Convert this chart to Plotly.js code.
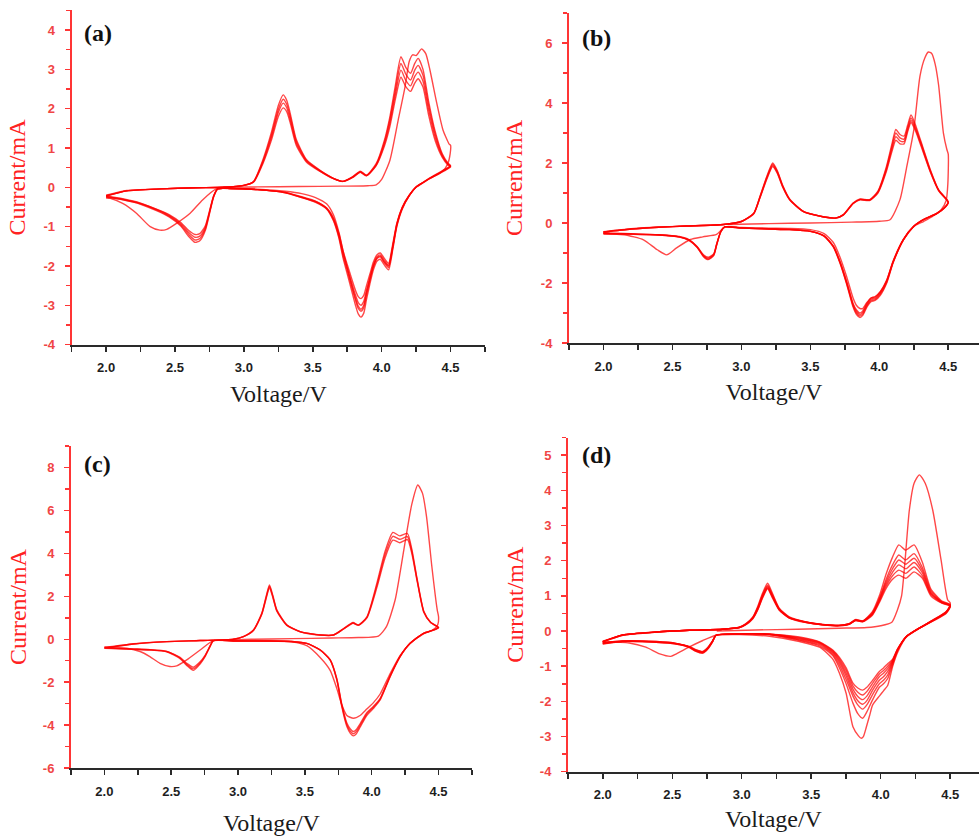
<!DOCTYPE html>
<html><head><meta charset="utf-8">
<script src="https://cdn.plot.ly/plotly-3.0.1.min.js"></script>
<style>html,body{margin:0;padding:0;background:#fff}#chart{width:979px;height:836px}</style>
</head><body><div id="chart"></div>
<script>
// ---------- tick labels ----------
const xTickVals = [2.0, 2.5, 3.0, 3.5, 4.0, 4.5];
const xTickText = ["2.0", "2.5", "3.0", "3.5", "4.0", "4.5"];
const aYTickVals = [-4, -3, -2, -1, 0, 1, 2, 3, 4];
const aYTickText = ["-4", "-3", "-2", "-1", "0", "1", "2", "3", "4"];
const bYTickVals = [-4, -2, 0, 2, 4, 6];
const bYTickText = ["-4", "-2", "0", "2", "4", "6"];
const cYTickVals = [-6, -4, -2, 0, 2, 4, 6, 8];
const cYTickText = ["-6", "-4", "-2", "0", "2", "4", "6", "8"];
const dYTickVals = [-4, -3, -2, -1, 0, 1, 2, 3, 4, 5];
const dYTickText = ["-4", "-3", "-2", "-1", "0", "1", "2", "3", "4", "5"];
const panelLabels = ["(a)", "(b)", "(c)", "(d)"];

// ---------- panel (a) ----------
const a1V = [2.85,3.1,3.4,3.7,3.9,3.96,4.0,4.06,4.12,4.17,4.2,4.225,4.25,4.29,4.32,4.35,4.4,4.445,4.49,4.5,
  4.497,4.48,4.44,4.35,4.29,4.25,4.2,4.15,4.11,4.08,4.05,4.02,3.99,3.965,3.94,3.915,3.89,3.87,3.85,3.83,3.81,3.78,3.75,3.72,3.69,3.65,3.6,3.52,3.42,3.3,3.1,2.9,2.8,2.7,2.61,2.51,2.44,2.39,2.32,2.22,2.12,2.03,2.0];
const a1I = [0.0,0.01,0.02,0.03,0.04,0.06,0.2,0.69,1.71,2.56,3.2,3.37,3.35,3.52,3.4,2.99,2.14,1.46,1.1,1.07,
  0.85,0.6,0.4,0.23,0.1,0.01,-0.21,-0.52,-0.95,-1.52,-2.0,-1.9,-1.75,-1.8,-2.0,-2.32,-2.68,-3.0,-3.1,-3.02,-2.82,-2.45,-2.05,-1.62,-1.15,-0.7,-0.42,-0.26,-0.16,-0.1,-0.05,-0.03,-0.04,-0.32,-0.66,-0.92,-1.07,-1.09,-1.0,-0.66,-0.41,-0.28,-0.27];
const aV = [2.0,2.15,2.4,2.65,2.85,3.0,3.07,3.14,3.2,3.25,3.285,3.31,3.335,3.38,3.455,3.55,3.65,3.72,3.79,3.845,3.89,3.96,4.02,4.06,4.1,4.14,4.175,4.21,4.24,4.265,4.3,4.34,4.39,4.44,4.48,4.5,
  4.47,4.42,4.35,4.29,4.25,4.2,4.15,4.11,4.08,4.05,4.02,3.99,3.965,3.94,3.915,3.89,3.87,3.85,3.83,3.81,3.78,3.75,3.72,3.69,3.65,3.6,3.52,3.42,3.3,3.1,2.9,2.81,2.78,2.755,2.72,2.68,2.645,2.6,2.54,2.46,2.37,2.25,2.12,2.0];
const aI2 = [-0.22,-0.09,-0.04,-0.01,0.0,0.05,0.15,0.72,1.4,2.08,2.35,2.22,1.9,1.22,0.7,0.44,0.23,0.15,0.27,0.41,0.31,0.6,1.2,1.8,2.6,3.32,3.05,2.9,3.15,3.28,3.0,2.2,1.4,0.85,0.62,0.55,
  0.48,0.38,0.24,0.1,0.01,-0.22,-0.55,-1.0,-1.6,-2.1,-1.98,-1.83,-1.88,-2.1,-2.45,-2.85,-3.2,-3.3,-3.22,-3.0,-2.6,-2.2,-1.8,-1.3,-0.85,-0.55,-0.38,-0.26,-0.14,-0.06,-0.03,-0.04,-0.25,-0.6,-1.1,-1.36,-1.4,-1.25,-0.98,-0.76,-0.6,-0.43,-0.32,-0.25];
const aI3 = [-0.22,-0.09,-0.04,-0.01,0.0,0.05,0.14,0.68,1.33,1.98,2.24,2.12,1.82,1.17,0.68,0.43,0.23,0.15,0.26,0.4,0.3,0.58,1.15,1.72,2.48,3.15,2.88,2.73,2.98,3.1,2.85,2.1,1.33,0.82,0.6,0.54,
  0.47,0.37,0.23,0.1,0.01,-0.21,-0.53,-0.97,-1.55,-2.04,-1.92,-1.77,-1.82,-2.03,-2.37,-2.74,-3.06,-3.15,-3.08,-2.87,-2.5,-2.12,-1.74,-1.26,-0.83,-0.54,-0.37,-0.26,-0.14,-0.06,-0.03,-0.04,-0.24,-0.58,-1.06,-1.3,-1.34,-1.2,-0.95,-0.74,-0.58,-0.42,-0.31,-0.24];
const aI4 = [-0.21,-0.09,-0.04,-0.01,0.0,0.05,0.14,0.65,1.27,1.9,2.14,2.03,1.74,1.12,0.66,0.42,0.22,0.15,0.26,0.39,0.3,0.56,1.1,1.64,2.37,2.98,2.72,2.58,2.82,2.93,2.7,1.98,1.25,0.79,0.59,0.53,
  0.46,0.36,0.23,0.1,0.01,-0.2,-0.51,-0.94,-1.5,-1.98,-1.86,-1.72,-1.77,-1.96,-2.28,-2.62,-2.9,-3.0,-2.93,-2.74,-2.4,-2.04,-1.68,-1.22,-0.8,-0.53,-0.36,-0.25,-0.13,-0.06,-0.03,-0.04,-0.23,-0.56,-1.02,-1.24,-1.27,-1.15,-0.92,-0.72,-0.57,-0.41,-0.3,-0.23];
const aI5 = [-0.2,-0.08,-0.04,-0.01,0.0,0.05,0.13,0.62,1.2,1.8,2.02,1.93,1.66,1.07,0.64,0.41,0.22,0.15,0.25,0.38,0.29,0.55,1.05,1.55,2.25,2.8,2.56,2.44,2.65,2.76,2.55,1.85,1.17,0.76,0.57,0.52,
  0.45,0.35,0.22,0.09,0.0,-0.2,-0.5,-0.91,-1.45,-1.93,-1.81,-1.67,-1.72,-1.9,-2.2,-2.5,-2.75,-2.83,-2.78,-2.62,-2.3,-1.96,-1.62,-1.18,-0.78,-0.52,-0.35,-0.24,-0.13,-0.06,-0.03,-0.04,-0.22,-0.54,-0.98,-1.18,-1.2,-1.1,-0.89,-0.7,-0.56,-0.4,-0.29,-0.22];

// ---------- panel (b) ----------
const b1V = [2.9,3.2,3.5,3.8,4.0,4.078,4.15,4.2,4.25,4.295,4.33,4.356,4.38,4.405,4.43,4.465,4.49,4.5,4.497,4.485,
  4.45,4.38,4.32,4.25,4.175,4.1,4.054,4.006,3.97,3.94,3.91,3.88,3.86,3.835,3.81,3.764,3.716,3.667,3.6,3.5,3.35,3.2,3.0,2.88,2.82,2.72,2.63,2.53,2.46,2.39,2.29,2.15,2.0];
const b1I = [-0.05,-0.02,0.0,0.03,0.06,0.11,0.78,1.9,3.1,4.9,5.5,5.7,5.65,5.3,4.6,3.0,2.45,2.3,1.3,0.75,
  0.45,0.2,0.05,-0.12,-0.56,-1.3,-1.9,-2.3,-2.45,-2.5,-2.65,-2.85,-2.85,-2.75,-2.5,-1.8,-1.15,-0.65,-0.35,-0.22,-0.18,-0.17,-0.15,-0.13,-0.38,-0.46,-0.55,-0.83,-1.06,-0.89,-0.56,-0.39,-0.37];
const bV = [2.0,2.2,2.4,2.6,2.87,3.0,3.09,3.135,3.185,3.227,3.26,3.3,3.35,3.45,3.6,3.69,3.74,3.81,3.86,3.93,3.99,4.05,4.09,4.12,4.15,4.18,4.205,4.23,4.26,4.3,4.37,4.43,4.49,4.5,
  4.47,4.42,4.32,4.25,4.175,4.1,4.054,4.006,3.97,3.94,3.91,3.88,3.86,3.835,3.81,3.764,3.716,3.667,3.6,3.5,3.35,3.2,3.0,2.88,2.85,2.82,2.8,2.76,2.725,2.68,2.62,2.55,2.4,2.2,2.0];
const bI2 = [-0.3,-0.2,-0.14,-0.1,-0.05,0.05,0.33,0.89,1.56,2.0,1.75,1.25,0.8,0.39,0.2,0.17,0.28,0.67,0.8,0.78,1.06,1.85,2.6,3.12,2.95,2.9,3.25,3.6,3.3,2.75,1.78,1.11,0.78,0.7,
  0.5,0.33,0.11,-0.11,-0.56,-1.33,-2.0,-2.42,-2.58,-2.62,-2.8,-3.08,-3.15,-3.05,-2.8,-2.05,-1.35,-0.8,-0.44,-0.28,-0.22,-0.2,-0.17,-0.13,-0.3,-0.75,-1.08,-1.22,-1.12,-0.82,-0.58,-0.47,-0.4,-0.37,-0.35];
const bI3 = [-0.3,-0.2,-0.14,-0.1,-0.05,0.05,0.32,0.87,1.53,1.96,1.72,1.23,0.79,0.39,0.2,0.17,0.28,0.66,0.79,0.77,1.04,1.8,2.52,3.0,2.84,2.8,3.17,3.5,3.22,2.7,1.75,1.1,0.77,0.69,
  0.5,0.33,0.11,-0.11,-0.55,-1.31,-1.97,-2.38,-2.55,-2.58,-2.76,-3.03,-3.1,-3.0,-2.76,-2.02,-1.33,-0.79,-0.44,-0.28,-0.22,-0.2,-0.17,-0.13,-0.3,-0.74,-1.06,-1.2,-1.1,-0.81,-0.57,-0.46,-0.4,-0.37,-0.35];
const bI4 = [-0.3,-0.2,-0.14,-0.1,-0.05,0.05,0.32,0.86,1.5,1.92,1.69,1.21,0.78,0.38,0.2,0.17,0.27,0.65,0.78,0.76,1.02,1.75,2.44,2.88,2.74,2.72,3.1,3.42,3.16,2.65,1.72,1.09,0.77,0.69,
  0.49,0.32,0.11,-0.11,-0.55,-1.29,-1.94,-2.34,-2.51,-2.54,-2.72,-2.98,-3.05,-2.95,-2.72,-1.99,-1.31,-0.78,-0.43,-0.28,-0.22,-0.2,-0.17,-0.13,-0.29,-0.72,-1.04,-1.17,-1.08,-0.8,-0.56,-0.46,-0.39,-0.36,-0.34];
const bI5 = [-0.29,-0.19,-0.13,-0.1,-0.05,0.05,0.31,0.84,1.47,1.88,1.66,1.19,0.77,0.38,0.2,0.17,0.27,0.64,0.77,0.75,1.0,1.7,2.36,2.76,2.64,2.64,3.03,3.35,3.1,2.6,1.7,1.08,0.76,0.68,
  0.49,0.32,0.11,-0.11,-0.54,-1.27,-1.91,-2.3,-2.47,-2.5,-2.68,-2.93,-3.0,-2.9,-2.68,-1.96,-1.29,-0.77,-0.43,-0.27,-0.21,-0.19,-0.16,-0.13,-0.29,-0.71,-1.02,-1.14,-1.06,-0.79,-0.55,-0.45,-0.39,-0.36,-0.34];

// ---------- panel (c) ----------
const c1V = [2.82,3.1,3.4,3.7,3.9,4.05,4.11,4.175,4.24,4.3,4.345,4.38,4.41,4.45,4.49,4.5,4.495,4.48,4.45,4.387,
  4.287,4.213,4.138,4.063,4.013,3.963,3.913,3.863,3.814,3.776,3.739,3.689,3.614,3.514,3.4,3.215,2.965,2.815,2.716,2.616,2.541,2.49,2.416,2.34,2.267,2.167,2.0];
const c1I = [-0.05,0.0,0.03,0.06,0.08,0.15,0.59,1.83,4.16,6.3,7.19,6.8,5.72,3.38,1.37,1.05,0.7,0.55,0.42,0.25,
  -0.2,-0.75,-1.6,-2.55,-2.95,-3.25,-3.55,-3.68,-3.55,-3.05,-2.3,-1.45,-0.85,-0.3,-0.12,-0.08,-0.07,-0.06,-0.5,-0.96,-1.24,-1.27,-1.12,-0.81,-0.57,-0.42,-0.36];
const cV = [2.0,2.217,2.466,2.716,2.965,3.04,3.115,3.177,3.21,3.235,3.26,3.29,3.365,3.464,3.614,3.714,3.79,3.86,3.9,3.964,4.04,4.1,4.158,4.21,4.267,4.3,4.34,4.39,4.44,4.5,
  4.487,4.45,4.387,4.287,4.213,4.138,4.063,4.013,3.963,3.913,3.885,3.863,3.84,3.814,3.776,3.739,3.689,3.614,3.514,3.4,3.215,2.965,2.815,2.79,2.753,2.716,2.666,2.616,2.566,2.466,2.34,2.217,2.0];
const cI2 = [-0.38,-0.22,-0.11,-0.06,0.0,0.12,0.43,1.21,2.0,2.53,2.05,1.37,0.67,0.36,0.2,0.2,0.5,0.78,0.67,1.05,2.65,4.1,4.98,4.82,4.93,4.2,2.8,1.3,0.8,0.55,
  0.5,0.4,0.28,-0.19,-0.81,-1.74,-2.83,-3.22,-3.55,-4.1,-4.4,-4.5,-4.38,-4.07,-3.14,-1.9,-0.97,-0.5,-0.19,-0.1,-0.08,-0.08,-0.06,-0.34,-0.81,-1.15,-1.45,-1.22,-0.9,-0.58,-0.5,-0.47,-0.42];
const cI3 = [-0.42,-0.22,-0.11,-0.06,0.0,0.12,0.42,1.18,1.95,2.47,2.0,1.34,0.66,0.36,0.2,0.2,0.49,0.76,0.66,1.02,2.55,3.95,4.8,4.66,4.78,4.1,2.75,1.28,0.79,0.55,
  0.5,0.4,0.28,-0.19,-0.8,-1.72,-2.79,-3.17,-3.48,-4.02,-4.3,-4.4,-4.28,-3.98,-3.08,-1.87,-0.96,-0.5,-0.19,-0.1,-0.08,-0.08,-0.06,-0.33,-0.78,-1.1,-1.38,-1.17,-0.87,-0.57,-0.49,-0.46,-0.41];
const cI4 = [-0.41,-0.21,-0.11,-0.06,0.0,0.12,0.41,1.15,1.9,2.4,1.95,1.31,0.65,0.35,0.2,0.2,0.48,0.75,0.65,1.0,2.45,3.8,4.62,4.5,4.65,4.0,2.7,1.25,0.78,0.54,
  0.49,0.4,0.27,-0.19,-0.79,-1.7,-2.75,-3.12,-3.42,-3.94,-4.2,-4.3,-4.18,-3.9,-3.02,-1.84,-0.95,-0.49,-0.19,-0.1,-0.08,-0.08,-0.06,-0.32,-0.75,-1.05,-1.3,-1.12,-0.84,-0.56,-0.48,-0.45,-0.4];

// ---------- panel (d) ----------
const d1V = [2.82,3.1,3.4,3.7,3.9,4.0,4.08,4.12,4.15,4.175,4.206,4.24,4.278,4.32,4.374,4.434,4.482,4.5,4.49,4.47,
  4.374,4.255,4.183,4.122,4.086,4.05,4.02,3.99,3.942,3.92,3.895,3.875,3.86,3.84,3.8,3.751,3.703,3.655,3.56,3.415,3.2,2.983,2.815,2.72,2.62,2.53,2.49,2.41,2.31,2.19,2.0];
const d1I = [0.0,0.03,0.05,0.08,0.1,0.15,0.25,0.6,1.0,2.0,3.44,4.2,4.44,4.2,3.44,2.02,0.88,0.8,0.65,0.55,
  0.3,0.02,-0.18,-0.6,-1.0,-1.55,-1.7,-1.85,-2.1,-2.4,-2.75,-3.0,-3.05,-2.98,-2.72,-1.77,-1.2,-0.8,-0.46,-0.3,-0.15,-0.1,-0.12,-0.27,-0.46,-0.65,-0.72,-0.65,-0.46,-0.34,-0.31];
const dV = [2.0,2.144,2.384,2.623,2.863,2.983,3.03,3.08,3.115,3.15,3.186,3.22,3.27,3.342,3.462,3.582,3.7,3.774,3.82,3.87,3.94,3.99,4.037,4.085,4.13,4.18,4.24,4.3,4.36,4.44,4.5,
  4.47,4.374,4.255,4.183,4.122,4.086,4.05,4.02,3.99,3.942,3.9,3.87,3.835,3.8,3.751,3.703,3.655,3.56,3.415,3.2,2.983,2.815,2.79,2.755,2.72,2.67,2.623,2.527,2.384,2.144,2.0];
const dI2 = [-0.31,-0.12,-0.03,0.02,0.05,0.11,0.21,0.4,0.7,1.08,1.36,1.08,0.65,0.4,0.26,0.19,0.16,0.21,0.33,0.29,0.55,1.0,1.6,2.1,2.45,2.3,2.45,1.95,1.2,0.85,0.75,
  0.55,0.31,0.03,-0.16,-0.55,-0.95,-1.35,-1.5,-1.6,-1.95,-2.3,-2.48,-2.35,-2.05,-1.5,-1.05,-0.7,-0.42,-0.27,-0.1,-0.08,-0.12,-0.31,-0.52,-0.63,-0.58,-0.47,-0.37,-0.32,-0.3,-0.37];
const dI3 = [-0.31,-0.12,-0.03,0.02,0.05,0.11,0.2,0.39,0.67,1.04,1.3,1.04,0.63,0.39,0.26,0.19,0.16,0.21,0.32,0.28,0.52,0.93,1.45,1.88,2.16,2.02,2.2,1.8,1.15,0.83,0.74,
  0.54,0.3,0.03,-0.16,-0.54,-0.9,-1.25,-1.4,-1.5,-1.8,-2.1,-2.22,-2.1,-1.85,-1.38,-0.97,-0.66,-0.39,-0.25,-0.1,-0.08,-0.12,-0.3,-0.5,-0.62,-0.57,-0.46,-0.37,-0.32,-0.3,-0.36];
const dI4 = [-0.3,-0.11,-0.03,0.02,0.05,0.1,0.2,0.38,0.65,1.01,1.27,1.01,0.62,0.38,0.25,0.18,0.16,0.2,0.31,0.28,0.5,0.9,1.38,1.77,2.02,1.9,2.07,1.72,1.1,0.82,0.73,
  0.53,0.3,0.03,-0.16,-0.53,-0.87,-1.15,-1.3,-1.4,-1.68,-1.98,-2.08,-1.98,-1.75,-1.28,-0.9,-0.62,-0.36,-0.23,-0.09,-0.08,-0.12,-0.3,-0.5,-0.61,-0.56,-0.46,-0.36,-0.31,-0.29,-0.35];
const dI5 = [-0.3,-0.11,-0.03,0.02,0.05,0.1,0.19,0.37,0.63,0.98,1.24,0.99,0.61,0.38,0.25,0.18,0.16,0.2,0.31,0.27,0.48,0.87,1.32,1.67,1.88,1.77,1.95,1.65,1.07,0.81,0.72,
  0.52,0.29,0.03,-0.16,-0.52,-0.84,-1.07,-1.2,-1.3,-1.58,-1.85,-1.95,-1.86,-1.65,-1.2,-0.84,-0.59,-0.34,-0.21,-0.09,-0.08,-0.12,-0.29,-0.49,-0.6,-0.55,-0.45,-0.36,-0.31,-0.29,-0.34];
const dI6 = [-0.3,-0.11,-0.03,0.02,0.05,0.1,0.19,0.36,0.61,0.96,1.22,0.97,0.6,0.37,0.25,0.18,0.15,0.2,0.3,0.27,0.47,0.84,1.26,1.57,1.73,1.64,1.82,1.57,1.04,0.8,0.71,
  0.51,0.29,0.03,-0.16,-0.51,-0.82,-1.0,-1.12,-1.22,-1.48,-1.72,-1.82,-1.74,-1.56,-1.12,-0.79,-0.56,-0.32,-0.19,-0.09,-0.08,-0.12,-0.28,-0.48,-0.59,-0.54,-0.45,-0.35,-0.3,-0.28,-0.33];
const dI7 = [-0.29,-0.11,-0.03,0.02,0.05,0.1,0.18,0.35,0.6,0.94,1.2,0.95,0.59,0.37,0.24,0.18,0.15,0.19,0.3,0.26,0.45,0.81,1.2,1.47,1.59,1.5,1.68,1.5,1.0,0.79,0.7,
  0.5,0.28,0.03,-0.16,-0.5,-0.8,-0.93,-1.05,-1.15,-1.4,-1.6,-1.68,-1.62,-1.48,-1.05,-0.75,-0.54,-0.31,-0.17,-0.09,-0.08,-0.12,-0.28,-0.47,-0.58,-0.53,-0.44,-0.35,-0.3,-0.28,-0.33];

// ---------- build ----------
const LINE = {color: 'rgba(255,0,0,0.72)', width: 1.4, shape: 'spline', smoothing: 0.6};
function tr(x, y, ax) {
  return {type: 'scatter', mode: 'lines', x: x, y: y, xaxis: 'x' + ax, yaxis: 'y' + ax,
          line: LINE, hoverinfo: 'skip', showlegend: false};
}
const traces = [
  tr(a1V, a1I, ''), tr(aV, aI2, ''), tr(aV, aI3, ''), tr(aV, aI4, ''), tr(aV, aI5, ''),
  tr(b1V, b1I, '2'), tr(bV, bI2, '2'), tr(bV, bI3, '2'), tr(bV, bI4, '2'), tr(bV, bI5, '2'),
  tr(c1V, c1I, '3'), tr(cV, cI2, '3'), tr(cV, cI3, '3'), tr(cV, cI4, '3'),
  tr(d1V, d1I, '4'), tr(dV, dI2, '4'), tr(dV, dI3, '4'), tr(dV, dI4, '4'), tr(dV, dI5, '4'), tr(dV, dI6, '4'), tr(dV, dI7, '4')
];

const YRED = '#ff3535';
const DARK = '#2a2a2a';
function xax(domain, range, anchor, standoff) {
  return {domain: domain, range: range, anchor: anchor,
    tickmode: 'array', tickvals: xTickVals, ticktext: xTickText,
    showline: true, linecolor: DARK, linewidth: 2, mirror: false,
    ticks: 'outside', ticklen: 5, tickwidth: 1.5, tickcolor: DARK,
    minor: {tick0: 1.75, dtick: 0.25, ticks: 'outside', ticklen: 5, tickwidth: 1.5, tickcolor: DARK, showgrid: false},
    tickfont: {family: 'Liberation Sans, Arial, sans-serif', size: 13, color: '#1e1e1e', weight: 'bold'},
    ticklabelstandoff: 5,
    title: {text: 'Voltage/V', font: {family: 'Liberation Serif, Times New Roman, serif', size: 24, color: '#1a1a1a'}, standoff: standoff},
    showgrid: false, zeroline: false, fixedrange: true};
}
function yax(domain, range, anchor, vals, text, minorD, standoff) {
  return {domain: domain, range: range, anchor: anchor,
    tickmode: 'array', tickvals: vals, ticktext: text,
    showline: true, linecolor: YRED, linewidth: 2,
    ticks: 'outside', ticklen: 5, tickwidth: 1.5, tickcolor: YRED,
    minor: {tick0: 0, dtick: minorD, ticks: 'outside', ticklen: 4, tickwidth: 1.5, tickcolor: YRED, showgrid: false},
    tickfont: {family: 'Liberation Sans, Arial, sans-serif', size: 13, color: '#f04545', weight: 'bold'},
    ticklabelstandoff: 7,
    title: {text: 'Current/mA', font: {family: 'Liberation Serif, Times New Roman, serif', size: 24, color: '#ff2222'}, standoff: standoff},
    showgrid: false, zeroline: false, fixedrange: true};
}

const layout = {
  width: 979, height: 836,
  margin: {l: 0, r: 0, t: 0, b: 0},
  paper_bgcolor: '#ffffff', plot_bgcolor: '#ffffff',
  showlegend: false, hovermode: false,
  xaxis:  xax([0.0732, 0.4954], [1.75, 4.75], 'y', 11),
  yaxis:  yax([0.5878, 0.9876], [-4, 4.5], 'x', aYTickVals, aYTickText, 0.5, 11),
  xaxis2: xax([0.5812, 1.0], [1.75, 4.723], 'y2', 11),
  yaxis2: yax([0.5897, 0.9844], [-4, 7], 'x2', bYTickVals, bYTickText, 1, 11),
  xaxis3: xax([0.0725, 0.4821], [1.75, 4.75], 'y3', 17),
  yaxis3: yax([0.0813, 0.4663], [-6, 9], 'x3', cYTickVals, cYTickText, 1, 9),
  xaxis4: xax([0.5802, 1.0], [1.75, 4.707], 'y4', 9),
  yaxis4: yax([0.0769, 0.4766], [-4, 5.5], 'x4', dYTickVals, dYTickText, 0.5, 9),
  annotations: [
    {text: panelLabels[0], x: 0.1001, y: 0.9605},
    {text: panelLabels[1], x: 0.6098, y: 0.9545},
    {text: panelLabels[2], x: 0.0991, y: 0.4450},
    {text: panelLabels[3], x: 0.6098, y: 0.4557}
  ].map(a => Object.assign(a, {xref: 'paper', yref: 'paper', showarrow: false,
      xanchor: 'center', yanchor: 'middle',
      font: {family: 'Liberation Serif, Times New Roman, serif', size: 24, color: '#111', weight: 'bold'}}))
};

Plotly.newPlot('chart', traces, layout, {staticPlot: true, displayModeBar: false});
</script>
</body></html>
